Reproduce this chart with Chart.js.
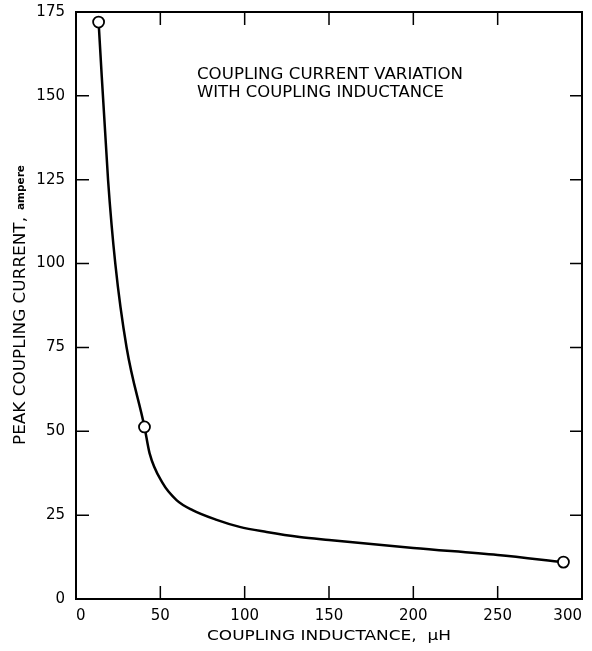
<!DOCTYPE html>
<html>
<head>
<meta charset="utf-8">
<script src="https://cdn.jsdelivr.net/npm/chart.js@4/dist/chart.umd.min.js"></script>
<style>
  html, body { margin: 0; padding: 0; background: #fff; }
  #wrap { width: 592px; height: 651px; }
</style>
</head>
<body>
<div id="wrap"><canvas id="chart" width="592" height="651"></canvas></div>
<script>
// curve (inductance uH, current A)
const curveX = [13.4, 19, 23.3, 30, 40.6, 43.6, 51.3, 59.6, 69.1, 83.4, 97, 113, 132.6, 150, 200, 250, 289]
const curveY = [172, 125, 100, 75, 51.3, 43.5, 34.6, 29.5, 26.5, 23.6, 21.5, 20.0, 18.5, 17.6, 15.2, 13.1, 11]
// measured points (circles)
const pointX = [13.4, 40.6, 289]
const pointY = [172, 51.3, 11]
const xTicks = [0, 50, 100, 150, 200, 250, 300]
const yTicks = [0, 25, 50, 75, 100, 125, 150, 175]
const titleLines = ['COUPLING CURRENT VARIATION', 'WITH COUPLING INDUCTANCE']

const font = 'DejaVu Sans'

// draw text squeezed/stretched to a given width
function fitText(ctx, text, x, y, width) {
      const w = ctx.measureText(text).width
      ctx.save()
      ctx.translate(x, y)
      ctx.scale(width / w, 1)
      ctx.fillText(text, 0, 0)
      ctx.restore()
}

const framePlugin = {
      id: 'frame',
      afterDraw(chart) {
            const ctx = chart.ctx
            const a = chart.chartArea
            const xs = chart.scales.x
            const ys = chart.scales.y
            ctx.save()
            ctx.strokeStyle = '#000'
            ctx.lineWidth = 2
            ctx.strokeRect(a.left, a.top, a.right - a.left, a.bottom - a.top)
            ctx.lineWidth = 1.5
            ctx.beginPath()
            xTicks.forEach(v => {
                  const px = xs.getPixelForValue(v)
                  if (v === 0 || v === 300) return
                  ctx.moveTo(px, a.bottom); ctx.lineTo(px, a.bottom - 13)
                  ctx.moveTo(px, a.top); ctx.lineTo(px, a.top + 13)
            })
            yTicks.forEach(v => {
                  const py = ys.getPixelForValue(v)
                  if (v === 0 || v === 175) return
                  ctx.moveTo(a.left, py); ctx.lineTo(a.left + 13, py)
                  ctx.moveTo(a.right, py); ctx.lineTo(a.right - 12, py)
            })
            ctx.stroke()

            // inner title
            ctx.fillStyle = '#000'
            ctx.textAlign = 'left'
            ctx.textBaseline = 'middle'
            ctx.font = '15px "' + font + '"'
            fitText(ctx, titleLines[0], 197, 75, 266)
            fitText(ctx, titleLines[1], 197, 93, 247)

            // x axis title
            ctx.font = '14px "' + font + '"'
            fitText(ctx, 'COUPLING INDUCTANCE,  \u03bcH', 207, 636, 244)

            // y axis title, "ampere" smaller and bold
            ctx.translate(21, 0)
            ctx.rotate(-Math.PI / 2)
            ctx.font = '15px "' + font + '"'
            fitText(ctx, 'PEAK COUPLING CURRENT,', -445, 0, 228)
            ctx.font = 'bold 11px "' + font + '"'
            fitText(ctx, 'ampere', -210, 0, 45)
            ctx.restore()
      }
}

new Chart(document.getElementById('chart'), {
      type: 'scatter',
      data: {
            datasets: [{
                  data: curveX.map((x, i) => ({ x: x, y: curveY[i] })),
                  showLine: true,
                  borderColor: '#000',
                  borderWidth: 2.5,
                  pointRadius: 0,
                  cubicInterpolationMode: 'monotone',
                  order: 2
            }, {
                  data: pointX.map((x, i) => ({ x: x, y: pointY[i] })),
                  showLine: false,
                  pointRadius: 5.5,
                  pointBackgroundColor: '#fff',
                  pointBorderColor: '#000',
                  pointBorderWidth: 1.8,
                  order: 1
            }]
      },
      options: {
            responsive: false,
            animation: false,
            layout: { padding: { top: 12, right: 10, left: 0, bottom: 0 } },
            plugins: { legend: { display: false }, tooltip: { enabled: false } },
            scales: {
                  x: {
                        type: 'linear', min: 0, max: 300,
                        afterBuildTicks: s => { s.ticks = xTicks.map(v => ({ value: v })) },
                        afterFit: s => { s.height = 52; s.paddingLeft = 0; s.paddingRight = 0 },
                        grid: { display: false, drawTicks: false },
                        border: { display: false },
                        ticks: { color: '#000', padding: 8, align: 'inner', font: { family: font, size: 15 } }
                  },
                  y: {
                        type: 'linear', min: 0, max: 175,
                        afterBuildTicks: s => { s.ticks = yTicks.map(v => ({ value: v })) },
                        afterFit: s => { s.width = 76; s.paddingTop = 0; s.paddingBottom = 0 },
                        grid: { display: false, drawTicks: false },
                        border: { display: false },
                        ticks: { color: '#000', padding: 11, font: { family: font, size: 15 } }
                  }
            }
      },
      plugins: [framePlugin]
})
</script>
</body>
</html>
